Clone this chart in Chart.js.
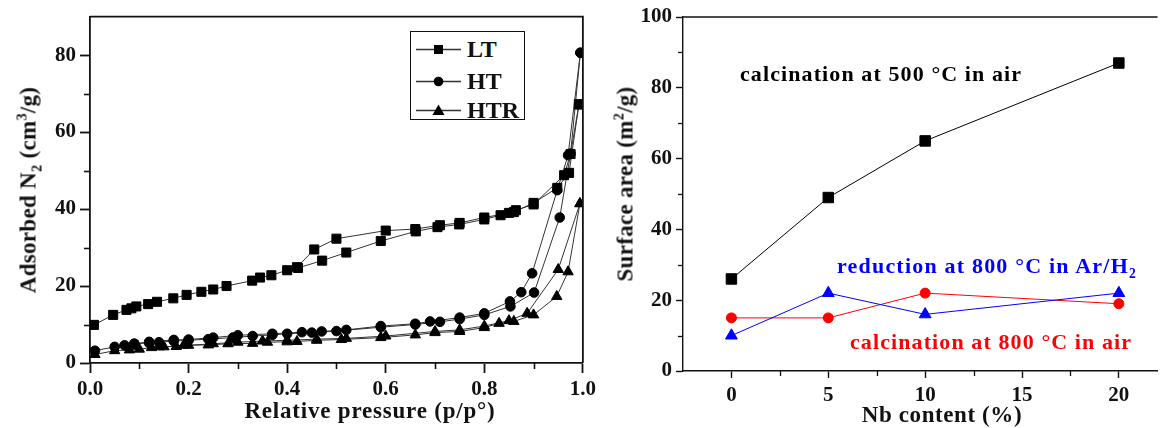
<!DOCTYPE html>
<html><head><meta charset="utf-8">
<script src="https://cdn.jsdelivr.net/npm/chart.js@4.4.0/dist/chart.umd.min.js"></script>
<style>
html,body{margin:0;padding:0;background:#fff;}
#wrap{position:relative;width:1166px;height:428px;overflow:hidden;font-family:"Liberation Serif","Times New Roman",serif;font-weight:bold;color:#111;}
canvas{position:absolute;top:0;}
.t{position:absolute;white-space:nowrap;line-height:1;}
.rot{transform:translate(-50%,-50%) rotate(-90deg);}
.ctr{transform:translate(-50%,-50%);}
sub,sup{font-size:62%;line-height:0;}
#legend{position:absolute;left:410px;top:31px;width:115px;height:89px;border:1.5px solid #111;box-sizing:border-box;background:#fff;}
.lg{position:absolute;left:5px;height:24px;display:flex;align-items:center;font-size:24px;}
.lg span{margin-left:6px;}
</style></head><body>
<div id="wrap">
<canvas id="c1" width="600" height="428" style="left:0"></canvas>
<canvas id="c2" width="566" height="428" style="left:600px"></canvas>
<div class="t rot" style="left:28px;top:190px;font-size:23px;letter-spacing:0.3px;">Adsorbed N<sub>2</sub> (cm<sup>3</sup>/g)</div>
<div class="t ctr" style="left:370px;top:410px;font-size:23px;letter-spacing:0.8px;">Relative pressure (p/p°)</div>
<div id="legend"></div>
<div class="t rot" style="left:625px;top:184px;font-size:23px;letter-spacing:0.3px;">Surface area (m<sup>2</sup>/g)</div>
<div class="t ctr" style="left:942px;top:414px;font-size:23px;letter-spacing:0.6px;">Nb content (%)</div>
<div class="t" style="left:740px;top:63px;font-size:22px;letter-spacing:1.1px;color:#000;">calcination at 500 °C in air</div>
<div class="t" style="left:837px;top:255px;font-size:22px;letter-spacing:1.2px;color:#0000ff;">reduction at 800 °C in Ar/H<sub>2</sub></div>
<div class="t" style="left:850px;top:331px;font-size:22px;letter-spacing:1.1px;color:#ff0000;">calcination at 800 °C in air</div>
</div>
<script>
// ---------- Left panel: N2 isotherms ----------
const isoNames = ['LT', 'HT', 'HTR'];
const isoMarkers = ['rect', 'circle', 'triangle'];

const ltAdsP = [0.008,0.047,0.074,0.084,0.094,0.118,0.136,0.169,0.196,0.226,0.25,0.277,0.329,0.345,0.368,0.40,0.422,0.471,0.52,0.59,0.661,0.705,0.749,0.80,0.833,0.85,0.864,0.90,0.962,0.975,0.992];
const ltAdsV = [9.9,12.5,13.8,14.2,14.7,15.3,15.9,16.8,17.7,18.5,19.1,20.0,21.4,22.2,22.8,24.1,24.7,26.6,28.7,31.7,34.2,35.3,36.0,37.3,38.4,39.0,39.7,41.2,48.8,54.3,67.2];
const ltDesP = [0.992,0.972,0.948,0.90,0.86,0.80,0.75,0.71,0.66,0.60,0.50,0.455,0.42];
const ltDesV = [67.2,49.4,45.5,41.6,39.2,37.8,36.4,35.8,34.8,34.4,32.3,29.5,24.9];

const htAdsP = [0.01,0.05,0.07,0.09,0.12,0.14,0.17,0.20,0.24,0.29,0.33,0.37,0.40,0.45,0.50,0.59,0.66,0.71,0.75,0.80,0.853,0.901,0.953,0.975,0.995];
const htAdsV = [3.2,4.2,4.6,5.0,5.2,5.4,5.7,5.9,6.2,6.6,7.0,7.3,7.6,7.9,8.3,9.3,10.0,10.7,11.4,12.5,14.7,18.3,37.8,54.4,80.6];
const htDesP = [0.995,0.97,0.948,0.897,0.875,0.852,0.80,0.75,0.69,0.66,0.59,0.52,0.47,0.43,0.37,0.30,0.25,0.20,0.17,0.12,0.09];
const htDesV = [80.6,54.0,44.9,23.3,18.4,16.0,12.9,11.8,10.8,10.2,9.6,8.6,8.2,8.0,7.6,7.2,6.6,6.1,6.0,5.5,5.0];

const htrAdsP = [0.01,0.05,0.08,0.10,0.125,0.14,0.175,0.19,0.24,0.28,0.33,0.36,0.40,0.42,0.46,0.51,0.59,0.66,0.70,0.75,0.80,0.83,0.86,0.90,0.947,0.97,0.994];
const htrAdsV = [2.2,3.2,3.4,3.6,4.0,4.2,4.3,4.6,4.7,5.0,5.1,5.4,5.5,5.6,5.9,6.1,6.6,7.3,7.9,8.2,9.2,10.3,10.8,12.5,17.3,23.7,41.4];
const htrDesP = [0.994,0.95,0.887,0.85,0.80,0.75,0.70,0.60,0.52,0.46,0.40,0.35,0.30,0.25,0.20,0.15];
const htrDesV = [41.4,24.3,12.9,11.0,9.6,8.6,8.2,7.0,6.4,6.2,5.9,5.7,5.4,5.0,4.6,4.2];

const pressureTicks = [0, 0.2, 0.4, 0.6, 0.8, 1.0];
const pressureMinor = [0.1, 0.3, 0.5, 0.7, 0.9];
const adsorbedTicks = [0, 20, 40, 60, 80];
const adsorbedMinor = [10, 30, 50, 70];

// ---------- Right panel: surface area ----------
const nbContent = [0, 5, 10, 20];
const area500Air = [26, 49, 65, 87];
const area800ArH2 = [10, 22, 16, 22];
const area800Air = [15, 15, 22, 19];
const nbTicks = [0, 5, 10, 15, 20];
const nbMinor = [2.5, 7.5, 12.5, 17.5];
const areaTicks = [0, 20, 40, 60, 80, 100];
const areaMinor = [10, 30, 50, 70, 90];

const FONT = '"Liberation Serif", "Times New Roman", serif';
const INK = '#111';

function pts(xs, ys) { return xs.map((x, i) => ({x: x, y: ys[i]})); }

const minorTicks = {
  id: 'minorTicks',
  afterDraw(chart, args, o) {
    const ctx = chart.ctx, a = chart.chartArea;
    ctx.save(); ctx.strokeStyle = INK; ctx.lineWidth = o.width || 1.5;
    (o.x || []).forEach(v => { const px = Math.round(chart.scales.x.getPixelForValue(v)) + 0.5;
      ctx.beginPath(); ctx.moveTo(px, a.bottom); ctx.lineTo(px, a.bottom + o.len); ctx.stroke(); });
    (o.y || []).forEach(v => { const py = Math.round(chart.scales.y.getPixelForValue(v)) + 0.5;
      ctx.beginPath(); ctx.moveTo(a.left, py); ctx.lineTo(a.left - o.len, py); ctx.stroke(); });
    ctx.restore();
  }
};
const frame = {
  id: 'frame',
  afterDraw(chart, args, o) {
    const ctx = chart.ctx, a = chart.chartArea;
    ctx.save(); ctx.strokeStyle = INK; ctx.lineWidth = o.width || 1.5;
    ctx.beginPath();
    ctx.moveTo(a.left, a.top); ctx.lineTo(a.right, a.top);
    if (o.right) { ctx.lineTo(a.right, a.bottom); }
    ctx.stroke(); ctx.restore();
  }
};

function axis(min, max, ticks, fixSize, isX, tickLen, pad, fmt, bw) {
  return {
    type: 'linear', min: min, max: max,
    afterBuildTicks: s => { s.ticks = ticks.map(v => ({value: v})); },
    afterFit: s => { if (isX) s.height = fixSize; else s.width = fixSize; },
    grid: {drawOnChartArea: false, drawTicks: true, tickLength: tickLen, tickColor: INK, tickWidth: bw},
    border: {display: true, color: INK, width: bw},
    ticks: {color: INK, autoSkip: false, maxRotation: 0, padding: pad,
      font: {family: FONT, size: 21, weight: 'bold'}, callback: fmt}
  };
}

Chart.defaults.animation = false;

const isoData = [
  pts(ltAdsP, ltAdsV).concat(pts(ltDesP, ltDesV)),
  pts(htAdsP, htAdsV).concat(pts(htDesP, htDesV)),
  pts(htrAdsP, htrAdsV).concat(pts(htrDesP, htrDesV))
];
const isoRadius = [6.4, 4.8, 6.0];

new Chart(document.getElementById('c1'), {
  type: 'line',
  data: {
    datasets: isoNames.map((n, i) => ({
      label: n, data: isoData[i], borderColor: '#333', borderWidth: 1, tension: 0,
      pointStyle: isoMarkers[i], pointRadius: isoRadius[i], pointBackgroundColor: '#000',
      pointBorderColor: '#000', pointBorderWidth: 1
    }))
  },
  options: {
    responsive: false, devicePixelRatio: 1,
    layout: {padding: {top: 16, right: 16, left: 0, bottom: 0}},
    plugins: {legend: {display: false}, tooltip: {enabled: false},
      minorTicks: {x: pressureMinor, y: adsorbedMinor, len: 6, width: 1.6},
      frame: {right: true, width: 1.8}},
    scales: {
      x: axis(0, 1, pressureTicks, 65, true, 10, 4, v => Number(v).toFixed(1), 1.8),
      y: axis(0, 90, adsorbedTicks, 90, false, 10, 4, v => v, 1.8)
    }
  },
  plugins: [minorTicks, frame]
});

new Chart(document.getElementById('c2'), {
  type: 'line',
  data: {
    datasets: [
      {label: 'calcination at 500 °C in air', data: pts(nbContent, area500Air), borderColor: '#000', pointStyle: 'rect', pointRadius: 7.4, pointBackgroundColor: '#000', pointBorderColor: '#000'},
      {label: 'reduction at 800 °C in Ar/H2', data: pts(nbContent, area800ArH2), borderColor: '#0000ff', pointStyle: 'triangle', pointRadius: 6.8, pointBackgroundColor: '#0000ff', pointBorderColor: '#0000ff'},
      {label: 'calcination at 800 °C in air', data: pts(nbContent, area800Air), borderColor: '#ff0000', pointStyle: 'circle', pointRadius: 5, pointBackgroundColor: '#ff0000', pointBorderColor: '#ff0000'}
    ].map(d => Object.assign({borderWidth: 1, tension: 0, pointBorderWidth: 1}, d))
  },
  options: {
    responsive: false, devicePixelRatio: 1,
    layout: {padding: {top: 17, right: 0, left: 0, bottom: 0}},
    plugins: {legend: {display: false}, tooltip: {enabled: false},
      minorTicks: {x: nbMinor, y: areaMinor, len: 5, width: 1.3},
      frame: {right: false, width: 1.4}},
    scales: {
      x: axis(-2.5, 22, nbTicks, 57, true, 7, 5, v => v, 1.4),
      y: axis(0, 100, areaTicks, 83, false, 7, 4, v => v, 1.4)
    }
  },
  plugins: [minorTicks, frame]
});

// HTML legend for left panel
const lg = document.getElementById('legend');
const tops = [5, 37, 66];
isoNames.forEach((n, i) => {
  let shape;
  if (isoMarkers[i] === 'rect') shape = '<rect x="18" y="6" width="9" height="9" fill="#000"/>';
  else if (isoMarkers[i] === 'circle') shape = '<circle cx="22.5" cy="10.5" r="4.8" fill="#000"/>';
  else shape = '<polygon points="22.5,4.5 28.5,15 16.5,15" fill="#000"/>';
  const row = document.createElement('div');
  row.className = 'lg'; row.style.top = tops[i] + 'px';
  row.innerHTML = '<svg width="45" height="21"><line x1="0" y1="10.5" x2="45" y2="10.5" stroke="#333" stroke-width="1.3"/>' + shape + '</svg><span>' + n + '</span>';
  lg.appendChild(row);
});
</script>
</body></html>
